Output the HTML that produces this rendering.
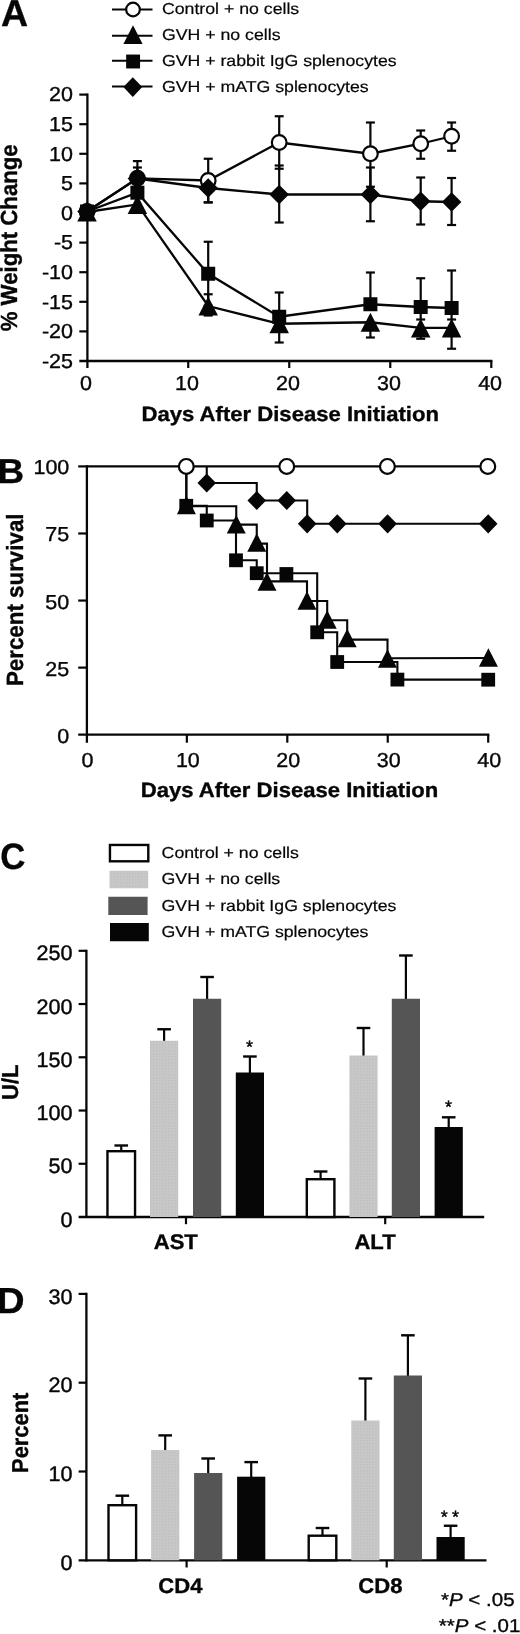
<!DOCTYPE html>
<html><head><meta charset="utf-8"><title>Figure</title>
<style>
html,body{margin:0;padding:0;background:#fff;}
svg{display:block;font-family:'Liberation Sans', Arial, Helvetica, sans-serif;fill:#060606;will-change:transform;text-rendering:geometricPrecision;}
</style></head>
<body>
<svg width="520" height="1634" viewBox="0 0 520 1634">
<rect width="520" height="1634" fill="#fff"/>
<defs><filter id="soft" x="0" y="0" width="100%" height="100%" filterUnits="userSpaceOnUse" color-interpolation-filters="sRGB"><feGaussianBlur stdDeviation="0.45"/></filter></defs>
<g filter="url(#soft)">
<rect width="520" height="1634" fill="#fff"/>
<text transform="translate(0.90,25.80) scale(1.0,1)" font-size="37.5" font-weight="700" text-anchor="start" stroke="#060606" stroke-width="0.35" >A</text>
<line x1="112.00" y1="9.50" x2="152.50" y2="9.50" stroke="#060606" stroke-width="2.0"/>
<circle cx="133.00" cy="9.50" r="6.85" fill="#fff" stroke="#060606" stroke-width="2.2"/>
<text transform="translate(161.90,14.00) scale(1.121,1)" font-size="15.8" font-weight="400" text-anchor="start" stroke="#060606" stroke-width="0.2" >Control + no cells</text>
<line x1="112.00" y1="35.80" x2="152.50" y2="35.80" stroke="#060606" stroke-width="2.0"/>
<polygon points="133.00,25.27 142.60,44.07 123.40,44.07" fill="#060606"/>
<text transform="translate(161.90,40.40) scale(1.121,1)" font-size="15.8" font-weight="400" text-anchor="start" stroke="#060606" stroke-width="0.2" >GVH + no cells</text>
<line x1="112.00" y1="60.80" x2="152.50" y2="60.80" stroke="#060606" stroke-width="2.0"/>
<rect x="126.15" y="54.55" width="13.9" height="13.9" fill="#060606"/>
<text transform="translate(161.90,66.00) scale(1.121,1)" font-size="15.8" font-weight="400" text-anchor="start" stroke="#060606" stroke-width="0.2" >GVH + rabbit IgG splenocytes</text>
<line x1="112.00" y1="86.60" x2="152.50" y2="86.60" stroke="#060606" stroke-width="2.0"/>
<polygon points="132.80,77.25 142.25,87.10 132.80,96.95 123.35,87.10" fill="#060606"/>
<text transform="translate(161.90,91.90) scale(1.121,1)" font-size="15.8" font-weight="400" text-anchor="start" stroke="#060606" stroke-width="0.2" >GVH + mATG splenocytes</text>
<line x1="87.40" y1="93.50" x2="87.40" y2="368.00" stroke="#060606" stroke-width="2.3000000000000003"/>
<line x1="79.30" y1="361.00" x2="492.40" y2="361.00" stroke="#060606" stroke-width="2.3000000000000003"/>
<line x1="79.30" y1="94.60" x2="87.40" y2="94.60" stroke="#060606" stroke-width="2.2"/>
<text transform="translate(73.00,101.40) scale(1.065,1)" font-size="20.2" font-weight="400" text-anchor="end" stroke="#060606" stroke-width="0.35" >20</text>
<line x1="79.30" y1="124.20" x2="87.40" y2="124.20" stroke="#060606" stroke-width="2.2"/>
<text transform="translate(73.00,131.00) scale(1.065,1)" font-size="20.2" font-weight="400" text-anchor="end" stroke="#060606" stroke-width="0.35" >15</text>
<line x1="79.30" y1="153.80" x2="87.40" y2="153.80" stroke="#060606" stroke-width="2.2"/>
<text transform="translate(73.00,160.60) scale(1.065,1)" font-size="20.2" font-weight="400" text-anchor="end" stroke="#060606" stroke-width="0.35" >10</text>
<line x1="79.30" y1="183.40" x2="87.40" y2="183.40" stroke="#060606" stroke-width="2.2"/>
<text transform="translate(73.00,190.20) scale(1.065,1)" font-size="20.2" font-weight="400" text-anchor="end" stroke="#060606" stroke-width="0.35" >5</text>
<line x1="79.30" y1="213.00" x2="87.40" y2="213.00" stroke="#060606" stroke-width="2.2"/>
<text transform="translate(73.00,219.80) scale(1.065,1)" font-size="20.2" font-weight="400" text-anchor="end" stroke="#060606" stroke-width="0.35" >0</text>
<line x1="79.30" y1="242.60" x2="87.40" y2="242.60" stroke="#060606" stroke-width="2.2"/>
<text transform="translate(73.00,249.40) scale(1.065,1)" font-size="20.2" font-weight="400" text-anchor="end" stroke="#060606" stroke-width="0.35" >-5</text>
<line x1="79.30" y1="272.20" x2="87.40" y2="272.20" stroke="#060606" stroke-width="2.2"/>
<text transform="translate(73.00,279.00) scale(1.065,1)" font-size="20.2" font-weight="400" text-anchor="end" stroke="#060606" stroke-width="0.35" >-10</text>
<line x1="79.30" y1="301.80" x2="87.40" y2="301.80" stroke="#060606" stroke-width="2.2"/>
<text transform="translate(73.00,308.60) scale(1.065,1)" font-size="20.2" font-weight="400" text-anchor="end" stroke="#060606" stroke-width="0.35" >-15</text>
<line x1="79.30" y1="331.40" x2="87.40" y2="331.40" stroke="#060606" stroke-width="2.2"/>
<text transform="translate(73.00,338.20) scale(1.065,1)" font-size="20.2" font-weight="400" text-anchor="end" stroke="#060606" stroke-width="0.35" >-20</text>
<text transform="translate(73.00,367.80) scale(1.065,1)" font-size="20.2" font-weight="400" text-anchor="end" stroke="#060606" stroke-width="0.35" >-25</text>
<text transform="translate(86.00,390.30) scale(1.065,1)" font-size="20.2" font-weight="400" text-anchor="middle" stroke="#060606" stroke-width="0.35" >0</text>
<line x1="188.23" y1="361.00" x2="188.23" y2="368.00" stroke="#060606" stroke-width="2.2"/>
<text transform="translate(187.03,390.30) scale(1.065,1)" font-size="20.2" font-weight="400" text-anchor="middle" stroke="#060606" stroke-width="0.35" >10</text>
<line x1="289.25" y1="361.00" x2="289.25" y2="368.00" stroke="#060606" stroke-width="2.2"/>
<text transform="translate(288.05,390.30) scale(1.065,1)" font-size="20.2" font-weight="400" text-anchor="middle" stroke="#060606" stroke-width="0.35" >20</text>
<line x1="390.27" y1="361.00" x2="390.27" y2="368.00" stroke="#060606" stroke-width="2.2"/>
<text transform="translate(389.07,390.30) scale(1.065,1)" font-size="20.2" font-weight="400" text-anchor="middle" stroke="#060606" stroke-width="0.35" >30</text>
<line x1="491.30" y1="361.00" x2="491.30" y2="368.00" stroke="#060606" stroke-width="2.2"/>
<text transform="translate(490.10,390.30) scale(1.065,1)" font-size="20.2" font-weight="400" text-anchor="middle" stroke="#060606" stroke-width="0.35" >40</text>
<text transform="translate(290.20,420.60) scale(1.068,1)" font-size="20.7" font-weight="700" text-anchor="middle" stroke="#060606" stroke-width="0.35" >Days After Disease Initiation</text>
<text transform="translate(17.00,237.80) rotate(-90) scale(1.0,1.05)" font-size="22.2" font-weight="700" text-anchor="middle" stroke="#060606" stroke-width="0.35">% Weight Change</text>
<line x1="208.20" y1="294.25" x2="208.20" y2="315.50" stroke="#060606" stroke-width="2.2"/>
<line x1="203.70" y1="294.25" x2="212.70" y2="294.25" stroke="#060606" stroke-width="2.2"/>
<line x1="203.70" y1="315.50" x2="212.70" y2="315.50" stroke="#060606" stroke-width="2.2"/>
<line x1="279.20" y1="323.75" x2="279.20" y2="342.50" stroke="#060606" stroke-width="2.2"/>
<line x1="274.70" y1="342.50" x2="283.70" y2="342.50" stroke="#060606" stroke-width="2.2"/>
<line x1="370.40" y1="322.25" x2="370.40" y2="337.50" stroke="#060606" stroke-width="2.2"/>
<line x1="365.90" y1="337.50" x2="374.90" y2="337.50" stroke="#060606" stroke-width="2.2"/>
<line x1="420.70" y1="327.90" x2="420.70" y2="338.75" stroke="#060606" stroke-width="2.2"/>
<line x1="416.20" y1="338.75" x2="425.20" y2="338.75" stroke="#060606" stroke-width="2.2"/>
<line x1="451.60" y1="327.90" x2="451.60" y2="348.75" stroke="#060606" stroke-width="2.2"/>
<line x1="447.10" y1="348.75" x2="456.10" y2="348.75" stroke="#060606" stroke-width="2.2"/>
<line x1="208.20" y1="241.75" x2="208.20" y2="305.75" stroke="#060606" stroke-width="2.2"/>
<line x1="203.70" y1="241.75" x2="212.70" y2="241.75" stroke="#060606" stroke-width="2.2"/>
<line x1="203.70" y1="305.75" x2="212.70" y2="305.75" stroke="#060606" stroke-width="2.2"/>
<line x1="279.20" y1="292.50" x2="279.20" y2="316.75" stroke="#060606" stroke-width="2.2"/>
<line x1="274.70" y1="292.50" x2="283.70" y2="292.50" stroke="#060606" stroke-width="2.2"/>
<line x1="370.40" y1="272.50" x2="370.40" y2="304.25" stroke="#060606" stroke-width="2.2"/>
<line x1="365.90" y1="272.50" x2="374.90" y2="272.50" stroke="#060606" stroke-width="2.2"/>
<line x1="420.70" y1="278.25" x2="420.70" y2="319.50" stroke="#060606" stroke-width="2.2"/>
<line x1="416.20" y1="278.25" x2="425.20" y2="278.25" stroke="#060606" stroke-width="2.2"/>
<line x1="416.20" y1="319.50" x2="425.20" y2="319.50" stroke="#060606" stroke-width="2.2"/>
<line x1="451.60" y1="270.50" x2="451.60" y2="319.50" stroke="#060606" stroke-width="2.2"/>
<line x1="447.10" y1="270.50" x2="456.10" y2="270.50" stroke="#060606" stroke-width="2.2"/>
<line x1="447.10" y1="319.50" x2="456.10" y2="319.50" stroke="#060606" stroke-width="2.2"/>
<line x1="137.40" y1="167.50" x2="137.40" y2="188.00" stroke="#060606" stroke-width="2.2"/>
<line x1="132.90" y1="167.50" x2="141.90" y2="167.50" stroke="#060606" stroke-width="2.2"/>
<line x1="132.90" y1="188.00" x2="141.90" y2="188.00" stroke="#060606" stroke-width="2.2"/>
<line x1="208.20" y1="174.00" x2="208.20" y2="202.50" stroke="#060606" stroke-width="2.2"/>
<line x1="203.70" y1="174.00" x2="212.70" y2="174.00" stroke="#060606" stroke-width="2.2"/>
<line x1="203.70" y1="202.50" x2="212.70" y2="202.50" stroke="#060606" stroke-width="2.2"/>
<line x1="279.20" y1="165.50" x2="279.20" y2="222.50" stroke="#060606" stroke-width="2.2"/>
<line x1="274.70" y1="165.50" x2="283.70" y2="165.50" stroke="#060606" stroke-width="2.2"/>
<line x1="274.70" y1="222.50" x2="283.70" y2="222.50" stroke="#060606" stroke-width="2.2"/>
<line x1="370.40" y1="167.50" x2="370.40" y2="221.25" stroke="#060606" stroke-width="2.2"/>
<line x1="365.90" y1="167.50" x2="374.90" y2="167.50" stroke="#060606" stroke-width="2.2"/>
<line x1="365.90" y1="221.25" x2="374.90" y2="221.25" stroke="#060606" stroke-width="2.2"/>
<line x1="420.70" y1="177.50" x2="420.70" y2="224.50" stroke="#060606" stroke-width="2.2"/>
<line x1="416.20" y1="177.50" x2="425.20" y2="177.50" stroke="#060606" stroke-width="2.2"/>
<line x1="416.20" y1="224.50" x2="425.20" y2="224.50" stroke="#060606" stroke-width="2.2"/>
<line x1="451.60" y1="178.00" x2="451.60" y2="225.00" stroke="#060606" stroke-width="2.2"/>
<line x1="447.10" y1="178.00" x2="456.10" y2="178.00" stroke="#060606" stroke-width="2.2"/>
<line x1="447.10" y1="225.00" x2="456.10" y2="225.00" stroke="#060606" stroke-width="2.2"/>
<line x1="137.40" y1="161.10" x2="137.40" y2="192.00" stroke="#060606" stroke-width="2.2"/>
<line x1="132.90" y1="161.10" x2="141.90" y2="161.10" stroke="#060606" stroke-width="2.2"/>
<line x1="132.90" y1="192.00" x2="141.90" y2="192.00" stroke="#060606" stroke-width="2.2"/>
<line x1="208.20" y1="158.75" x2="208.20" y2="202.25" stroke="#060606" stroke-width="2.2"/>
<line x1="203.70" y1="158.75" x2="212.70" y2="158.75" stroke="#060606" stroke-width="2.2"/>
<line x1="203.70" y1="202.25" x2="212.70" y2="202.25" stroke="#060606" stroke-width="2.2"/>
<line x1="279.20" y1="116.25" x2="279.20" y2="168.75" stroke="#060606" stroke-width="2.2"/>
<line x1="274.70" y1="116.25" x2="283.70" y2="116.25" stroke="#060606" stroke-width="2.2"/>
<line x1="274.70" y1="168.75" x2="283.70" y2="168.75" stroke="#060606" stroke-width="2.2"/>
<line x1="370.40" y1="122.50" x2="370.40" y2="186.75" stroke="#060606" stroke-width="2.2"/>
<line x1="365.90" y1="122.50" x2="374.90" y2="122.50" stroke="#060606" stroke-width="2.2"/>
<line x1="365.90" y1="186.75" x2="374.90" y2="186.75" stroke="#060606" stroke-width="2.2"/>
<line x1="420.70" y1="130.50" x2="420.70" y2="158.75" stroke="#060606" stroke-width="2.2"/>
<line x1="416.20" y1="130.50" x2="425.20" y2="130.50" stroke="#060606" stroke-width="2.2"/>
<line x1="416.20" y1="158.75" x2="425.20" y2="158.75" stroke="#060606" stroke-width="2.2"/>
<line x1="451.60" y1="122.50" x2="451.60" y2="150.75" stroke="#060606" stroke-width="2.2"/>
<line x1="447.10" y1="122.50" x2="456.10" y2="122.50" stroke="#060606" stroke-width="2.2"/>
<line x1="447.10" y1="150.75" x2="456.10" y2="150.75" stroke="#060606" stroke-width="2.2"/>
<polyline points="87.00,212.00 137.40,204.40 208.20,306.00 279.20,323.75 370.40,322.25 420.70,327.90 451.60,327.90" fill="none" stroke="#060606" stroke-width="2.3" stroke-linejoin="miter"/>
<polyline points="87.00,211.50 137.40,192.70 208.20,273.75 279.20,316.75 370.40,304.25 420.70,307.00 451.60,308.00" fill="none" stroke="#060606" stroke-width="2.3" stroke-linejoin="miter"/>
<polyline points="87.00,211.50 137.40,178.50 208.20,188.00 279.20,194.50 370.40,194.50 420.70,201.25 451.60,202.00" fill="none" stroke="#060606" stroke-width="2.3" stroke-linejoin="miter"/>
<polyline points="87.00,211.50 137.40,178.30 208.20,180.50 279.20,142.50 370.40,153.75 420.70,143.75 451.60,136.25" fill="none" stroke="#060606" stroke-width="2.3" stroke-linejoin="miter"/>
<polygon points="87.00,202.50 96.75,221.50 77.25,221.50" fill="#060606"/>
<polygon points="137.40,194.90 147.15,213.90 127.65,213.90" fill="#060606"/>
<polygon points="208.20,296.50 217.95,315.50 198.45,315.50" fill="#060606"/>
<polygon points="279.20,314.25 288.95,333.25 269.45,333.25" fill="#060606"/>
<polygon points="370.40,312.75 380.15,331.75 360.65,331.75" fill="#060606"/>
<polygon points="420.70,318.40 430.45,337.40 410.95,337.40" fill="#060606"/>
<polygon points="451.60,318.40 461.35,337.40 441.85,337.40" fill="#060606"/>
<circle cx="87.00" cy="211.50" r="7.35" fill="#060606" stroke="#060606" stroke-width="2.2"/>
<circle cx="137.40" cy="178.30" r="7.35" fill="#060606" stroke="#060606" stroke-width="2.2"/>
<circle cx="208.20" cy="180.50" r="7.35" fill="#fff" stroke="#060606" stroke-width="2.2"/>
<circle cx="279.20" cy="142.50" r="7.35" fill="#fff" stroke="#060606" stroke-width="2.2"/>
<circle cx="370.40" cy="153.75" r="7.35" fill="#fff" stroke="#060606" stroke-width="2.2"/>
<circle cx="420.70" cy="143.75" r="7.35" fill="#fff" stroke="#060606" stroke-width="2.2"/>
<circle cx="451.60" cy="136.25" r="7.35" fill="#fff" stroke="#060606" stroke-width="2.2"/>
<rect x="80.00" y="204.50" width="14" height="14" fill="#060606"/>
<rect x="130.40" y="185.70" width="14" height="14" fill="#060606"/>
<rect x="201.20" y="266.75" width="14" height="14" fill="#060606"/>
<rect x="272.20" y="309.75" width="14" height="14" fill="#060606"/>
<rect x="363.40" y="297.25" width="14" height="14" fill="#060606"/>
<rect x="413.70" y="300.00" width="14" height="14" fill="#060606"/>
<rect x="444.60" y="301.00" width="14" height="14" fill="#060606"/>
<polygon points="87.00,201.75 96.75,211.50 87.00,221.25 77.25,211.50" fill="#060606"/>
<polygon points="137.40,168.75 147.15,178.50 137.40,188.25 127.65,178.50" fill="#060606"/>
<polygon points="208.20,178.25 217.95,188.00 208.20,197.75 198.45,188.00" fill="#060606"/>
<polygon points="279.20,184.75 288.95,194.50 279.20,204.25 269.45,194.50" fill="#060606"/>
<polygon points="370.40,184.75 380.15,194.50 370.40,204.25 360.65,194.50" fill="#060606"/>
<polygon points="420.70,191.50 430.45,201.25 420.70,211.00 410.95,201.25" fill="#060606"/>
<polygon points="451.60,192.25 461.35,202.00 451.60,211.75 441.85,202.00" fill="#060606"/>
<text transform="translate(-2.40,483.00) scale(1.065,1)" font-size="34.6" font-weight="700" text-anchor="start" stroke="#060606" stroke-width="0.35" >B</text>
<line x1="86.90" y1="465.30" x2="86.90" y2="742.70" stroke="#060606" stroke-width="2.3000000000000003"/>
<line x1="78.20" y1="734.70" x2="489.30" y2="734.70" stroke="#060606" stroke-width="2.3000000000000003"/>
<text transform="translate(69.30,742.70) scale(1.065,1)" font-size="20.2" font-weight="400" text-anchor="end" stroke="#060606" stroke-width="0.35" >0</text>
<line x1="78.20" y1="667.62" x2="86.90" y2="667.62" stroke="#060606" stroke-width="2.2"/>
<text transform="translate(69.30,675.62) scale(1.065,1)" font-size="20.2" font-weight="400" text-anchor="end" stroke="#060606" stroke-width="0.35" >25</text>
<line x1="78.20" y1="600.55" x2="86.90" y2="600.55" stroke="#060606" stroke-width="2.2"/>
<text transform="translate(69.30,608.55) scale(1.065,1)" font-size="20.2" font-weight="400" text-anchor="end" stroke="#060606" stroke-width="0.35" >50</text>
<line x1="78.20" y1="533.48" x2="86.90" y2="533.48" stroke="#060606" stroke-width="2.2"/>
<text transform="translate(69.30,541.48) scale(1.065,1)" font-size="20.2" font-weight="400" text-anchor="end" stroke="#060606" stroke-width="0.35" >75</text>
<line x1="78.20" y1="466.40" x2="86.90" y2="466.40" stroke="#060606" stroke-width="2.2"/>
<text transform="translate(69.30,474.40) scale(1.065,1)" font-size="20.2" font-weight="400" text-anchor="end" stroke="#060606" stroke-width="0.35" >100</text>
<text transform="translate(87.40,767.40) scale(1.065,1)" font-size="20.2" font-weight="400" text-anchor="middle" stroke="#060606" stroke-width="0.35" >0</text>
<line x1="186.85" y1="734.70" x2="186.85" y2="742.70" stroke="#060606" stroke-width="2.2"/>
<text transform="translate(187.85,767.40) scale(1.065,1)" font-size="20.2" font-weight="400" text-anchor="middle" stroke="#060606" stroke-width="0.35" >10</text>
<line x1="287.30" y1="734.70" x2="287.30" y2="742.70" stroke="#060606" stroke-width="2.2"/>
<text transform="translate(288.30,767.40) scale(1.065,1)" font-size="20.2" font-weight="400" text-anchor="middle" stroke="#060606" stroke-width="0.35" >20</text>
<line x1="387.75" y1="734.70" x2="387.75" y2="742.70" stroke="#060606" stroke-width="2.2"/>
<text transform="translate(388.75,767.40) scale(1.065,1)" font-size="20.2" font-weight="400" text-anchor="middle" stroke="#060606" stroke-width="0.35" >30</text>
<line x1="488.20" y1="734.70" x2="488.20" y2="742.70" stroke="#060606" stroke-width="2.2"/>
<text transform="translate(489.20,767.40) scale(1.065,1)" font-size="20.2" font-weight="400" text-anchor="middle" stroke="#060606" stroke-width="0.35" >40</text>
<text transform="translate(289.50,797.00) scale(1.068,1)" font-size="20.7" font-weight="700" text-anchor="middle" stroke="#060606" stroke-width="0.35" >Days After Disease Initiation</text>
<text transform="translate(22.60,599.80) rotate(-90) scale(1.0,1.05)" font-size="22.35" font-weight="700" text-anchor="middle" stroke="#060606" stroke-width="0.35">Percent survival</text>
<polyline points="86.90,466.40 488.20,466.40" fill="none" stroke="#060606" stroke-width="2.1" stroke-linejoin="miter"/>
<polyline points="206.75,466.40 206.75,483.00 256.75,483.00 256.75,500.50 307.20,500.50 307.20,523.80 488.20,523.80" fill="none" stroke="#060606" stroke-width="2.1" stroke-linejoin="miter"/>
<polyline points="186.40,466.40 186.40,506.20 236.25,506.20 236.25,524.60 256.75,524.60 256.75,543.60 267.00,543.60 267.00,581.40 307.00,581.40 307.00,601.00 327.20,601.00 327.20,620.30 347.20,620.30 347.20,639.60 387.50,639.60 387.50,658.20 488.40,658.00" fill="none" stroke="#060606" stroke-width="2.1" stroke-linejoin="miter"/>
<polyline points="186.25,466.40 186.25,505.80 206.75,505.80 206.75,520.50 236.00,520.50 236.00,560.30 256.75,560.30 256.75,573.20 317.20,573.20 317.20,632.30 337.20,632.30 337.20,662.00 397.40,662.00 397.40,679.60 488.20,679.60" fill="none" stroke="#060606" stroke-width="2.1" stroke-linejoin="miter"/>
<polygon points="186.40,495.75 195.90,514.25 176.90,514.25" fill="#060606"/>
<polygon points="236.25,514.95 245.75,533.45 226.75,533.45" fill="#060606"/>
<polygon points="256.75,533.35 266.25,551.85 247.25,551.85" fill="#060606"/>
<polygon points="267.00,572.35 276.50,590.85 257.50,590.85" fill="#060606"/>
<polygon points="307.00,591.25 316.50,609.75 297.50,609.75" fill="#060606"/>
<polygon points="327.20,610.25 336.70,628.75 317.70,628.75" fill="#060606"/>
<polygon points="347.20,628.85 356.70,647.35 337.70,647.35" fill="#060606"/>
<polygon points="387.50,649.15 397.00,667.65 378.00,667.65" fill="#060606"/>
<polygon points="488.40,648.35 497.90,666.85 478.90,666.85" fill="#060606"/>
<rect x="179.35" y="498.90" width="13.8" height="13.8" fill="#060606"/>
<rect x="199.85" y="513.60" width="13.8" height="13.8" fill="#060606"/>
<rect x="229.10" y="553.40" width="13.8" height="13.8" fill="#060606"/>
<rect x="249.85" y="566.30" width="13.8" height="13.8" fill="#060606"/>
<rect x="310.30" y="625.40" width="13.8" height="13.8" fill="#060606"/>
<rect x="330.30" y="655.10" width="13.8" height="13.8" fill="#060606"/>
<rect x="390.50" y="672.70" width="13.8" height="13.8" fill="#060606"/>
<rect x="279.50" y="567.10" width="13.8" height="13.8" fill="#060606"/>
<rect x="481.30" y="672.80" width="13.8" height="13.8" fill="#060606"/>
<polygon points="206.75,473.40 216.05,483.00 206.75,492.60 197.45,483.00" fill="#060606"/>
<polygon points="256.75,490.90 266.05,500.50 256.75,510.10 247.45,500.50" fill="#060606"/>
<polygon points="307.20,514.20 316.50,523.80 307.20,533.40 297.90,523.80" fill="#060606"/>
<polygon points="286.75,490.90 296.05,500.50 286.75,510.10 277.45,500.50" fill="#060606"/>
<polygon points="337.30,514.20 346.60,523.80 337.30,533.40 328.00,523.80" fill="#060606"/>
<polygon points="387.60,514.20 396.90,523.80 387.60,533.40 378.30,523.80" fill="#060606"/>
<polygon points="488.20,514.20 497.50,523.80 488.20,533.40 478.90,523.80" fill="#060606"/>
<circle cx="186.30" cy="466.40" r="7.4" fill="#fff" stroke="#060606" stroke-width="2.2"/>
<circle cx="286.75" cy="466.40" r="7.4" fill="#fff" stroke="#060606" stroke-width="2.2"/>
<circle cx="387.40" cy="466.40" r="7.4" fill="#fff" stroke="#060606" stroke-width="2.2"/>
<circle cx="487.80" cy="466.40" r="7.4" fill="#fff" stroke="#060606" stroke-width="2.2"/>
<text transform="translate(0.20,868.70) scale(0.95,1)" font-size="36.6" font-weight="700" text-anchor="start" stroke="#060606" stroke-width="0.35" >C</text>
<defs><pattern id="dots" width="3" height="3" patternUnits="userSpaceOnUse"><rect width="3" height="3" fill="#c8c8c8"/><rect width="1.5" height="1.5" fill="#c0c0c0"/></pattern></defs>
<rect x="109.95" y="844.95" width="38.35" height="16.35" fill="#fff" stroke="#060606" stroke-width="2.4"/>
<text transform="translate(161.60,858.00) scale(1.121,1)" font-size="15.8" font-weight="400" text-anchor="start" stroke="#060606" stroke-width="0.2" >Control + no cells</text>
<rect x="109.5" y="870.75" width="38.70" height="17.50" fill="url(#dots)"/>
<text transform="translate(161.60,884.25) scale(1.121,1)" font-size="15.8" font-weight="400" text-anchor="start" stroke="#060606" stroke-width="0.2" >GVH + no cells</text>
<rect x="108.3" y="896.75" width="39.30" height="18.25" fill="#555555"/>
<text transform="translate(161.60,910.60) scale(1.121,1)" font-size="15.8" font-weight="400" text-anchor="start" stroke="#060606" stroke-width="0.2" >GVH + rabbit IgG splenocytes</text>
<rect x="110.0" y="923.0" width="38.80" height="18.25" fill="#060606"/>
<text transform="translate(161.60,937.00) scale(1.121,1)" font-size="15.8" font-weight="400" text-anchor="start" stroke="#060606" stroke-width="0.2" >GVH + mATG splenocytes</text>
<line x1="86.40" y1="949.70" x2="86.40" y2="1218.10" stroke="#060606" stroke-width="2.3000000000000003"/>
<line x1="78.60" y1="1217.00" x2="484.20" y2="1217.00" stroke="#060606" stroke-width="2.3000000000000003"/>
<text transform="translate(72.60,1226.60) scale(1.028,1)" font-size="21.0" font-weight="400" text-anchor="end" stroke="#060606" stroke-width="0.42" >0</text>
<line x1="78.60" y1="1163.76" x2="86.40" y2="1163.76" stroke="#060606" stroke-width="2.2"/>
<text transform="translate(72.60,1173.36) scale(1.028,1)" font-size="21.0" font-weight="400" text-anchor="end" stroke="#060606" stroke-width="0.42" >50</text>
<line x1="78.60" y1="1110.52" x2="86.40" y2="1110.52" stroke="#060606" stroke-width="2.2"/>
<text transform="translate(72.60,1120.12) scale(1.028,1)" font-size="21.0" font-weight="400" text-anchor="end" stroke="#060606" stroke-width="0.42" >100</text>
<line x1="78.60" y1="1057.28" x2="86.40" y2="1057.28" stroke="#060606" stroke-width="2.2"/>
<text transform="translate(72.60,1066.88) scale(1.028,1)" font-size="21.0" font-weight="400" text-anchor="end" stroke="#060606" stroke-width="0.42" >150</text>
<line x1="78.60" y1="1004.04" x2="86.40" y2="1004.04" stroke="#060606" stroke-width="2.2"/>
<text transform="translate(72.60,1013.64) scale(1.028,1)" font-size="21.0" font-weight="400" text-anchor="end" stroke="#060606" stroke-width="0.42" >200</text>
<line x1="78.60" y1="950.80" x2="86.40" y2="950.80" stroke="#060606" stroke-width="2.2"/>
<text transform="translate(72.60,960.40) scale(1.028,1)" font-size="21.0" font-weight="400" text-anchor="end" stroke="#060606" stroke-width="0.42" >250</text>
<line x1="186.00" y1="1217.00" x2="186.00" y2="1224.20" stroke="#060606" stroke-width="2.2"/>
<text transform="translate(175.75,1249.20) scale(1.04,1)" font-size="21.2" font-weight="700" text-anchor="middle" stroke="#060606" stroke-width="0.35" >AST</text>
<line x1="385.20" y1="1217.00" x2="385.20" y2="1224.20" stroke="#060606" stroke-width="2.2"/>
<text transform="translate(375.00,1249.20) scale(1.04,1)" font-size="21.2" font-weight="700" text-anchor="middle" stroke="#060606" stroke-width="0.35" >ALT</text>
<text transform="translate(18.40,1082.20) rotate(-90) scale(1.0,1.05)" font-size="22.0" font-weight="700" text-anchor="middle" stroke="#060606" stroke-width="0.35">U/L</text>
<line x1="121.25" y1="1151.00" x2="121.25" y2="1145.50" stroke="#060606" stroke-width="2.2"/>
<line x1="114.45" y1="1145.50" x2="128.05" y2="1145.50" stroke="#060606" stroke-width="2.4000000000000004"/>
<rect x="107.45" y="1151.20" width="27.6" height="65.80" fill="#fff" stroke="#060606" stroke-width="2.4"/>
<line x1="164.10" y1="1041.75" x2="164.10" y2="1029.25" stroke="#060606" stroke-width="2.2"/>
<line x1="157.30" y1="1029.25" x2="170.90" y2="1029.25" stroke="#060606" stroke-width="2.4000000000000004"/>
<rect x="150.00" y="1040.75" width="28.2" height="176.25" fill="url(#dots)"/>
<line x1="207.10" y1="999.75" x2="207.10" y2="977.00" stroke="#060606" stroke-width="2.2"/>
<line x1="200.30" y1="977.00" x2="213.90" y2="977.00" stroke="#060606" stroke-width="2.4000000000000004"/>
<rect x="193.00" y="998.75" width="28.2" height="218.25" fill="#555555"/>
<line x1="249.90" y1="1073.50" x2="249.90" y2="1056.50" stroke="#060606" stroke-width="2.2"/>
<line x1="243.10" y1="1056.50" x2="256.70" y2="1056.50" stroke="#060606" stroke-width="2.4000000000000004"/>
<rect x="235.80" y="1072.50" width="28.2" height="144.50" fill="#060606"/>
<line x1="320.60" y1="1179.00" x2="320.60" y2="1171.50" stroke="#060606" stroke-width="2.2"/>
<line x1="313.80" y1="1171.50" x2="327.40" y2="1171.50" stroke="#060606" stroke-width="2.4000000000000004"/>
<rect x="306.80" y="1179.20" width="27.6" height="37.80" fill="#fff" stroke="#060606" stroke-width="2.4"/>
<line x1="363.50" y1="1056.50" x2="363.50" y2="1028.00" stroke="#060606" stroke-width="2.2"/>
<line x1="356.70" y1="1028.00" x2="370.30" y2="1028.00" stroke="#060606" stroke-width="2.4000000000000004"/>
<rect x="349.40" y="1055.50" width="28.2" height="161.50" fill="url(#dots)"/>
<line x1="405.90" y1="999.75" x2="405.90" y2="955.50" stroke="#060606" stroke-width="2.2"/>
<line x1="399.10" y1="955.50" x2="412.70" y2="955.50" stroke="#060606" stroke-width="2.4000000000000004"/>
<rect x="391.80" y="998.75" width="28.2" height="218.25" fill="#555555"/>
<line x1="448.70" y1="1128.00" x2="448.70" y2="1117.30" stroke="#060606" stroke-width="2.2"/>
<line x1="441.90" y1="1117.30" x2="455.50" y2="1117.30" stroke="#060606" stroke-width="2.4000000000000004"/>
<rect x="434.60" y="1127.00" width="28.2" height="90.00" fill="#060606"/>
<text transform="translate(249.60,1052.50) scale(1.0,1)" font-size="18" font-weight="400" text-anchor="middle" stroke="#060606" stroke-width="0.35" >*</text>
<text transform="translate(448.60,1112.50) scale(1.0,1)" font-size="18" font-weight="400" text-anchor="middle" stroke="#060606" stroke-width="0.35" >*</text>
<text transform="translate(-3.20,1313.00) scale(1.065,1)" font-size="36.2" font-weight="700" text-anchor="start" stroke="#060606" stroke-width="0.35" >D</text>
<line x1="86.40" y1="1292.80" x2="86.40" y2="1561.40" stroke="#060606" stroke-width="2.3000000000000003"/>
<line x1="78.60" y1="1560.30" x2="486.50" y2="1560.30" stroke="#060606" stroke-width="2.3000000000000003"/>
<text transform="translate(72.60,1569.90) scale(1.028,1)" font-size="21.0" font-weight="400" text-anchor="end" stroke="#060606" stroke-width="0.42" >0</text>
<line x1="78.60" y1="1471.50" x2="86.40" y2="1471.50" stroke="#060606" stroke-width="2.2"/>
<text transform="translate(72.60,1481.10) scale(1.028,1)" font-size="21.0" font-weight="400" text-anchor="end" stroke="#060606" stroke-width="0.42" >10</text>
<line x1="78.60" y1="1382.70" x2="86.40" y2="1382.70" stroke="#060606" stroke-width="2.2"/>
<text transform="translate(72.60,1392.30) scale(1.028,1)" font-size="21.0" font-weight="400" text-anchor="end" stroke="#060606" stroke-width="0.42" >20</text>
<line x1="78.60" y1="1293.90" x2="86.40" y2="1293.90" stroke="#060606" stroke-width="2.2"/>
<text transform="translate(72.60,1303.50) scale(1.028,1)" font-size="21.0" font-weight="400" text-anchor="end" stroke="#060606" stroke-width="0.42" >30</text>
<line x1="186.60" y1="1560.30" x2="186.60" y2="1567.50" stroke="#060606" stroke-width="2.2"/>
<text transform="translate(180.40,1592.80) scale(1.04,1)" font-size="21.2" font-weight="700" text-anchor="middle" stroke="#060606" stroke-width="0.35" >CD4</text>
<line x1="386.70" y1="1560.30" x2="386.70" y2="1567.50" stroke="#060606" stroke-width="2.2"/>
<text transform="translate(380.40,1592.80) scale(1.04,1)" font-size="21.2" font-weight="700" text-anchor="middle" stroke="#060606" stroke-width="0.35" >CD8</text>
<text transform="translate(27.60,1432.80) rotate(-90) scale(1.0,1.05)" font-size="21.9" font-weight="700" text-anchor="middle" stroke="#060606" stroke-width="0.35">Percent</text>
<line x1="122.30" y1="1505.00" x2="122.30" y2="1495.70" stroke="#060606" stroke-width="2.2"/>
<line x1="115.50" y1="1495.70" x2="129.10" y2="1495.70" stroke="#060606" stroke-width="2.4000000000000004"/>
<rect x="108.50" y="1505.20" width="27.6" height="55.10" fill="#fff" stroke="#060606" stroke-width="2.4"/>
<line x1="165.20" y1="1451.00" x2="165.20" y2="1435.40" stroke="#060606" stroke-width="2.2"/>
<line x1="158.40" y1="1435.40" x2="172.00" y2="1435.40" stroke="#060606" stroke-width="2.4000000000000004"/>
<rect x="151.10" y="1450.00" width="28.2" height="110.30" fill="url(#dots)"/>
<line x1="208.20" y1="1474.00" x2="208.20" y2="1458.50" stroke="#060606" stroke-width="2.2"/>
<line x1="201.40" y1="1458.50" x2="215.00" y2="1458.50" stroke="#060606" stroke-width="2.4000000000000004"/>
<rect x="194.10" y="1473.00" width="28.2" height="87.30" fill="#555555"/>
<line x1="251.20" y1="1477.70" x2="251.20" y2="1462.10" stroke="#060606" stroke-width="2.2"/>
<line x1="244.40" y1="1462.10" x2="258.00" y2="1462.10" stroke="#060606" stroke-width="2.4000000000000004"/>
<rect x="237.10" y="1476.70" width="28.2" height="83.60" fill="#060606"/>
<line x1="322.50" y1="1535.50" x2="322.50" y2="1528.00" stroke="#060606" stroke-width="2.2"/>
<line x1="315.70" y1="1528.00" x2="329.30" y2="1528.00" stroke="#060606" stroke-width="2.4000000000000004"/>
<rect x="308.70" y="1535.70" width="27.6" height="24.60" fill="#fff" stroke="#060606" stroke-width="2.4"/>
<line x1="365.40" y1="1421.50" x2="365.40" y2="1378.50" stroke="#060606" stroke-width="2.2"/>
<line x1="358.60" y1="1378.50" x2="372.20" y2="1378.50" stroke="#060606" stroke-width="2.4000000000000004"/>
<rect x="351.30" y="1420.50" width="28.2" height="139.80" fill="url(#dots)"/>
<line x1="407.90" y1="1376.50" x2="407.90" y2="1335.30" stroke="#060606" stroke-width="2.2"/>
<line x1="401.10" y1="1335.30" x2="414.70" y2="1335.30" stroke="#060606" stroke-width="2.4000000000000004"/>
<rect x="393.80" y="1375.50" width="28.2" height="184.80" fill="#555555"/>
<line x1="450.60" y1="1538.00" x2="450.60" y2="1525.75" stroke="#060606" stroke-width="2.2"/>
<line x1="443.80" y1="1525.75" x2="457.40" y2="1525.75" stroke="#060606" stroke-width="2.4000000000000004"/>
<rect x="436.50" y="1537.00" width="28.2" height="23.30" fill="#060606"/>
<text transform="translate(444.30,1523.00) scale(1.0,1)" font-size="18" font-weight="400" text-anchor="middle" stroke="#060606" stroke-width="0.35" >*</text>
<text transform="translate(455.60,1523.00) scale(1.0,1)" font-size="18" font-weight="400" text-anchor="middle" stroke="#060606" stroke-width="0.35" >*</text>
<text transform="translate(441.00,1606.20) scale(1.097,1)" font-size="18.7" font-weight="400" text-anchor="start" stroke="#060606" stroke-width="0.35" >*<tspan font-style="italic">P</tspan> &lt; .05</text>
<text transform="translate(438.80,1632.20) scale(1.097,1)" font-size="18.7" font-weight="400" text-anchor="start" stroke="#060606" stroke-width="0.35" >**<tspan font-style="italic">P</tspan> &lt; .01</text>
</g>
</svg>
</body></html>
